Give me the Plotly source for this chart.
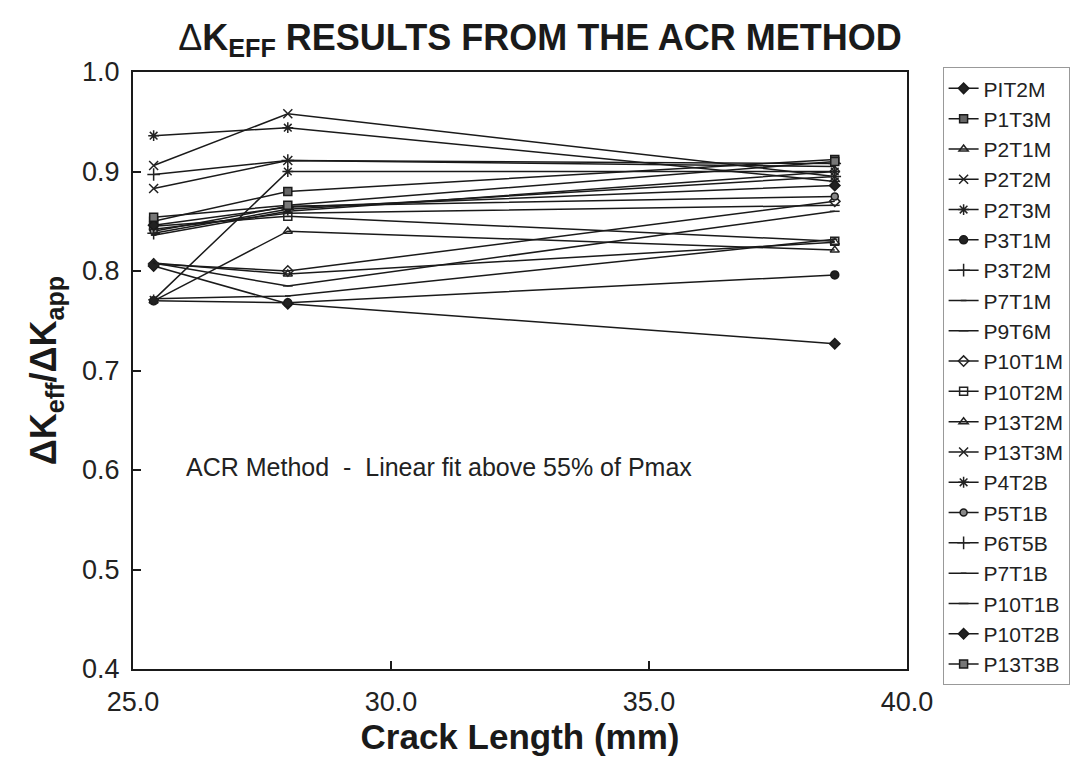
import plotly.graph_objects as go

crack_length = [25.4, 28.0, 38.6]

series_names = ["PIT2M", "P1T3M", "P2T1M", "P2T2M", "P2T3M", "P3T1M", "P3T2M",
                "P7T1M", "P9T6M", "P10T1M", "P10T2M", "P13T2M", "P13T3M", "P4T2B",
                "P5T1B", "P6T5B", "P7T1B", "P10T1B", "P10T2B", "P13T3B"]

PIT2M = [0.805, 0.767, 0.727]
P1T3M = [0.850, 0.880, 0.912]
P2T1M = [0.770, 0.840, 0.821]
P2T2M = [0.906, 0.958, 0.895]
P2T3M = [0.936, 0.944, 0.890]
P3T1M = [0.770, 0.768, 0.796]
P3T2M = [0.897, 0.911, 0.908]
P7T1M = [0.772, 0.775, 0.832]
P9T6M = [0.808, 0.785, 0.860]
P10T1M = [0.807, 0.800, 0.870]
P10T2M = [0.845, 0.855, 0.830]
P13T2M = [0.808, 0.797, 0.829]
P13T3M = [0.883, 0.911, 0.905]
P4T2B = [0.771, 0.900, 0.900]
P5T1B = [0.840, 0.865, 0.875]
P6T5B = [0.838, 0.862, 0.895]
P7T1B = [0.836, 0.860, 0.900]
P10T1B = [0.842, 0.858, 0.866]
P10T2B = [0.846, 0.864, 0.886]
P13T3B = [0.854, 0.866, 0.910]

series_values = [PIT2M, P1T3M, P2T1M, P2T2M, P2T3M, P3T1M, P3T2M, P7T1M, P9T6M,
                 P10T1M, P10T2M, P13T2M, P13T3M, P4T2B, P5T1B, P6T5B, P7T1B,
                 P10T1B, P10T2B, P13T3B]

x_ticks = [25.0, 30.0, 35.0, 40.0]
y_ticks = [0.4, 0.5, 0.6, 0.7, 0.8, 0.9, 1.0]

# marker style per series: (symbol, color, size)
styles = {
    "PIT2M": ("diamond", "#222", 8),
    "P1T3M": ("square", "#666", 8),
    "P2T1M": ("triangle-up-open", "#222", 8),
    "P2T2M": ("x-thin-open", "#222", 9),
    "P2T3M": ("asterisk-open", "#222", 9),
    "P3T1M": ("circle", "#222", 8),
    "P3T2M": ("cross-thin-open", "#222", 9),
    "P7T1M": ("line-ew-open", "#222", 4),
    "P9T6M": ("line-ew-open", "#222", 7),
    "P10T1M": ("diamond-open", "#222", 8),
    "P10T2M": ("square-open", "#222", 8),
    "P13T2M": ("triangle-up-open", "#222", 8),
    "P13T3M": ("x-thin-open", "#222", 9),
    "P4T2B": ("asterisk-open", "#222", 9),
    "P5T1B": ("circle", "#888", 7),
    "P6T5B": ("cross-thin-open", "#222", 9),
    "P7T1B": ("line-ew-open", "#222", 4),
    "P10T1B": ("line-ew-open", "#222", 7),
    "P10T2B": ("diamond", "#222", 8),
    "P13T3B": ("square", "#777", 8),
}

fig = go.Figure()
for name, vals in zip(series_names, series_values):
    sym, col, size = styles[name]
    fig.add_trace(go.Scatter(
        x=crack_length, y=vals, name=name, legendgroup=name,
        mode="lines+markers",
        line=dict(color="#1a1a1a", width=1.5),
        marker=dict(symbol=sym, size=size, color=col,
                    line=dict(color="#1a1a1a", width=1.5)),
    ))

fig.add_annotation(
    x=0.066, y=0.338, xref="paper", yref="paper", xanchor="left", yanchor="middle",
    text="ACR Method  -  Linear fit above 55% of Pmax", showarrow=False,
    font=dict(family="Liberation Sans", size=25, color="#222"))

fig.update_layout(
    width=1080, height=772,
    margin=dict(l=133, r=173, t=72, b=103, autoexpand=False),
    paper_bgcolor="white", plot_bgcolor="white",
    title=dict(
        text="<span style='font-weight:normal'>Δ</span>K<sub>EFF</sub> RESULTS FROM THE ACR METHOD",
        x=0.5, xanchor="center", y=0.952, yanchor="middle",
        font=dict(family="Liberation Sans", size=36, color="#1a1a1a", weight="bold")),
    font=dict(family="Liberation Sans", color="#1a1a1a"),
    legend=dict(
        x=1.046, y=1.008, xanchor="left", yanchor="top",
        bordercolor="#999", borderwidth=1, bgcolor="white",
        font=dict(family="Liberation Sans", size=21, color="#222"),
        tracegroupgap=0, itemwidth=30, maxheight=700),
    showlegend=True,
)

fig.update_xaxes(
    range=[25, 40], tickvals=x_ticks, ticktext=[f"{v:.1f}" for v in x_ticks],
    ticks="inside", ticklen=8, tickwidth=2, tickcolor="#1a1a1a",
    showline=True, linecolor="#1a1a1a", linewidth=2, mirror=True,
    showgrid=False, zeroline=False, ticklabelstandoff=8,
    tickfont=dict(family="Liberation Sans", size=27, color="#222"),
    title=dict(text="<b>Crack Length (mm)</b>", standoff=2,
               font=dict(family="Liberation Sans", size=35, color="#1a1a1a")),
)
fig.update_yaxes(
    range=[0.4, 1.0], tickvals=y_ticks, ticktext=[f"{v:.1f}" for v in y_ticks],
    ticks="inside", ticklen=8, tickwidth=2, tickcolor="#1a1a1a",
    showline=True, linecolor="#1a1a1a", linewidth=2, mirror=True,
    showgrid=False, zeroline=False, ticklabelstandoff=6,
    tickfont=dict(family="Liberation Sans", size=27, color="#222"),
    title=dict(text="<b>ΔK<sub>eff</sub>/ΔK<sub>app</sub></b>", standoff=14,
               font=dict(family="Liberation Sans", size=36, color="#1a1a1a")),
)

fig.write_html("out.html")
